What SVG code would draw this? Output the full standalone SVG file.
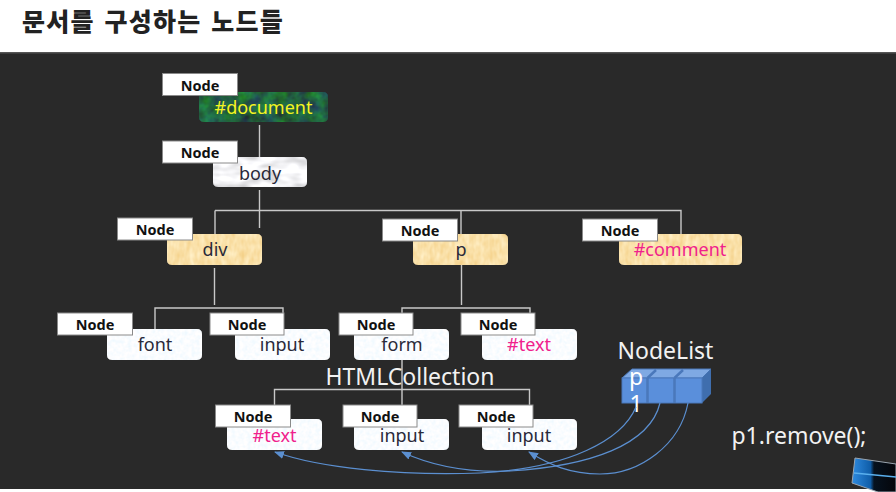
<svg xmlns="http://www.w3.org/2000/svg" width="896" height="492" viewBox="0 0 896 492">
<style>
text{font-family:"Noto Sans","Noto Sans CJK KR",sans-serif;text-anchor:middle}
.tag rect{fill:#fff;stroke:#8a8a8a;stroke-width:1}
.tag text{font-size:14.500px;font-weight:700;fill:#111}
.lab{font-size:18px;fill:#2a2a3a}
.pink{fill:#f0218c}
.wire{fill:none;stroke:#c8c8c8;stroke-width:1.4}
.link{fill:none;stroke:#5b8fd0;stroke-width:1.2;marker-end:url(#arr)}
.big{font-size:23px;fill:#f2f2f2}
.box{stroke:#111;stroke-width:.6}
filter{color-interpolation-filters:sRGB}
</style>
<defs>
<marker id="arr" markerWidth="11" markerHeight="9" refX="9" refY="4" orient="auto" markerUnits="userSpaceOnUse"><path d="M0 0L10 4L0 8Z" fill="#5b8fd0"/></marker>
<filter id="green" x="0" y="0" width="100%" height="100%"><feTurbulence type="fractalNoise" baseFrequency=".08" numOctaves="3" seed="4"/><feColorMatrix values="0 0 0 0 .13  .55 0 0 0 .1  0 .35 0 0 .08  0 0 0 0 1"/><feComposite in2="SourceAlpha" operator="in"/></filter>
<filter id="marble" x="0" y="0" width="100%" height="100%"><feTurbulence type="fractalNoise" baseFrequency=".05 .12" numOctaves="2" seed="7"/><feColorMatrix values=".45 0 0 0 .72  .45 0 0 0 .72  .45 0 0 0 .73  0 0 0 0 1"/><feComposite in2="SourceAlpha" operator="in"/></filter>
<filter id="paper" x="0" y="0" width="100%" height="100%"><feTurbulence type="fractalNoise" baseFrequency=".2 .1" numOctaves="2" seed="3"/><feColorMatrix values=".06 0 0 0 .95  .16 0 0 0 .8  .32 0 0 0 .5  0 0 0 0 1"/><feComposite in2="SourceAlpha" operator="in"/></filter>
<filter id="ice" x="0" y="0" width="100%" height="100%"><feTurbulence type="fractalNoise" baseFrequency=".25" numOctaves="2" seed="9"/><feColorMatrix values=".12 0 0 0 .92  .04 0 0 0 .97  0 0 0 0 1  0 0 0 0 1"/><feComposite in2="SourceAlpha" operator="in"/></filter>
<linearGradient id="gloss" x1="0" y1="0" x2="1" y2="0"><stop offset="0" stop-color="#2f8be0"/><stop offset=".42" stop-color="#0f5da8"/><stop offset=".5" stop-color="#06121f"/><stop offset="1" stop-color="#05060a"/></linearGradient>
</defs>
<rect width="896" height="492" fill="#fff"/>
<rect y="52" width="896" height="437" fill="#292929"/>
<rect x="878" y="489" width="18" height="3" fill="#292929"/>
<rect y="52" width="896" height="1.5" fill="#555"/>
<text x="153" y="31" id="title" style="font-family:'Noto Sans CJK KR',sans-serif;font-size:25px;font-weight:900;fill:#222;letter-spacing:1.2px;word-spacing:3px">문서를 구성하는 노드들</text>
<g id="connectors">
<path class="wire" d="M259.500 125V172M259.500 190V228M215 210.500V234M215 210.500H681V234M461 210.500V234M461.500 262V305M214.500 268V305M155 329V308H283V320M402 313V308H530V320M402 360V405M274.500 405V389.500H529.500V405"/>
</g>
<g id="n-document"><rect class="box" x="199" y="92" width="129" height="30" rx="5" filter="url(#green)"/><text x="263.500" y="114" class="lab" style="fill:#f5f520">#document</text><g class="tag"><rect x="162.500" y="73.500" width="75" height="22"/><text x="200" y="90.500">Node</text></g></g>
<g id="n-body"><rect class="box" x="213" y="157" width="94" height="30" rx="5" filter="url(#marble)"/><text x="260" y="180" class="lab">body</text><g class="tag"><rect x="162.500" y="141" width="75" height="22"/><text x="200" y="158">Node</text></g></g>
<g id="n-div"><rect class="box" x="167" y="234" width="95" height="31" rx="5" filter="url(#paper)"/><text x="215" y="256" class="lab">div</text><g class="tag"><rect x="117.500" y="218" width="75" height="22"/><text x="155" y="235">Node</text></g></g>
<g id="n-p"><rect class="box" x="413" y="234" width="95" height="31" rx="5" filter="url(#paper)"/><text x="461" y="256" class="lab">p</text><g class="tag"><rect x="382.500" y="219" width="75" height="22"/><text x="420" y="236">Node</text></g></g>
<g id="n-comment"><rect class="box" x="619" y="234" width="123" height="31" rx="5" filter="url(#paper)"/><text x="680" y="256" class="lab pink">#comment</text><g class="tag"><rect x="582.500" y="219" width="75" height="22"/><text x="620" y="236">Node</text></g></g>
<g id="n-font"><rect class="box" x="107" y="329" width="95" height="31" rx="5" filter="url(#ice)"/><text x="155" y="351" class="lab">font</text><g class="tag"><rect x="57.500" y="313" width="75" height="22"/><text x="95" y="330">Node</text></g></g>
<g id="n-input1"><rect class="box" x="235" y="329" width="95" height="31" rx="5" filter="url(#ice)"/><text x="282" y="351" class="lab">input</text><g class="tag"><rect x="210" y="313" width="74" height="22"/><text x="247" y="330">Node</text></g></g>
<g id="n-form"><rect class="box" x="354" y="329" width="95" height="31" rx="5" filter="url(#ice)"/><text x="402" y="351" class="lab">form</text><g class="tag"><rect x="339" y="313" width="74" height="22"/><text x="376" y="330">Node</text></g></g>
<g id="n-text1"><rect class="box" x="482" y="329" width="95" height="31" rx="5" filter="url(#ice)"/><text x="529" y="351" class="lab pink">#text</text><g class="tag"><rect x="461" y="313" width="74" height="22"/><text x="498" y="330">Node</text></g></g>
<g id="n-text2"><rect class="box" x="227" y="419" width="95" height="31" rx="5" filter="url(#ice)"/><text x="274.500" y="442" class="lab pink">#text</text><g class="tag"><rect x="215.500" y="405" width="75" height="22"/><text x="253" y="422">Node</text></g></g>
<g id="n-input2"><rect class="box" x="354" y="419" width="95" height="31" rx="5" filter="url(#ice)"/><text x="402" y="442" class="lab">input</text><g class="tag"><rect x="343" y="405" width="74" height="22"/><text x="380" y="422">Node</text></g></g>
<g id="n-input3"><rect class="box" x="482" y="419" width="95" height="31" rx="5" filter="url(#ice)"/><text x="529" y="442" class="lab">input</text><g class="tag"><rect x="459" y="405" width="74" height="22"/><text x="496" y="422">Node</text></g></g>
<text id="htmlcollection" x="410" y="385" class="big">HTMLCollection</text>
<g id="nodelist">
<text x="665.500" y="359" class="big">NodeList</text>
<path d="M622 378L632 369H711L702 378Z" fill="#7fa9e3" stroke="#4a78bb"/>
<path d="M702 378L711 369V394L702 403Z" fill="#3f6eae"/>
<rect x="622" y="378" width="80" height="25" fill="#5a8fdb" stroke="#4a78bb"/>
<path d="M647.500 378V403M674.500 378V403M647.500 378L656 370M674.500 378L683 370" stroke="#4a78bb" stroke-width="2.500" fill="none"/>
<text x="636" y="385" style="font-size:23px;fill:#fff">p</text>
<text x="636" y="412" style="font-size:23px;fill:#fff">1</text>
</g>
<g id="links">
<path class="link" d="M636 407C622 440 570 468 480 473C400 476 320 468 275 452"/>
<path class="link" d="M660 403C650 445 590 466 510 471C465 473 430 465 402 452"/>
<path class="link" d="M688 403C680 445 640 474 600 474C570 474 550 465 529 452"/>
</g>
<text id="code" x="799" y="444" class="big">p1.remove();</text>
<g id="corner"><path d="M855 458L896 464V492H878L852 483Z" fill="url(#gloss)" stroke="#9aa5b0" stroke-width="1"/><path d="M854 473L896 477" stroke="#5ab0ee" stroke-width="1.500"/></g>
</svg>
